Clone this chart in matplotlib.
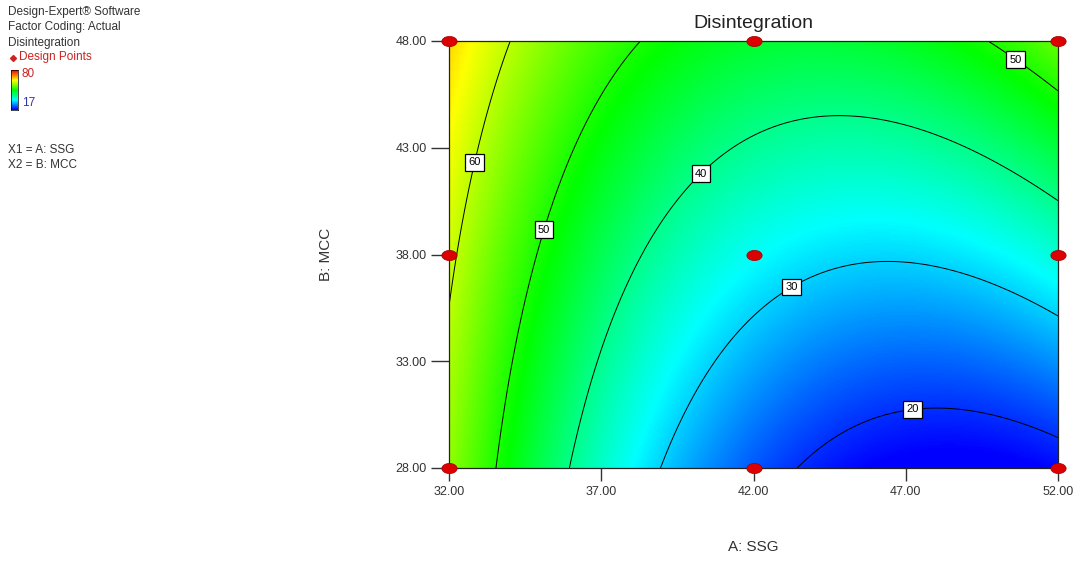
import numpy as np
import matplotlib
matplotlib.use("Agg")
import matplotlib.pyplot as plt
from matplotlib.colors import LinearSegmentedColormap
from matplotlib.path import Path
from matplotlib.transforms import Affine2D

plt.rcParams["font.family"] = ["Liberation Sans", "DejaVu Sans"]

# factor ranges and design points (3x3 factorial)
ssg_levels = [32.0, 42.0, 52.0]
mcc_levels = [28.0, 38.0, 48.0]
x_ticks = [32.0, 37.0, 42.0, 47.0, 52.0]
y_ticks = [28.0, 33.0, 38.0, 43.0, 48.0]

trace_ssg = [34.0, 32.9, 32.2, 32.0,
             38.3, 36.3, 34.9, 34.2, 33.5,
             36.0, 36.9, 38.3, 40.2, 44.9, 49.0, 52.0,
             39.0, 40.3, 43.2, 46.4, 50.1, 52.0,
             43.5, 45.2, 48.4, 52.0,
             49.8, 52.0]
trace_mcc = [48.0, 43.0, 38.0, 35.5,
             48.0, 43.0, 38.0, 33.0, 28.0,
             28.0, 33.0, 38.0, 41.9, 44.3, 43.0, 40.55,
             28.0, 33.0, 36.6, 37.5, 36.3, 35.1,
             28.0, 29.9, 30.76, 29.5,
             48.0, 45.7]
trace_level = [60] * 4 + [50] * 5 + [40] * 7 + [30] * 6 + [20] * 4 + [50] * 2

contour_levels = [20, 30, 40, 50, 60]
label_pos = [(32.9, 42.3), (34.8, 39.3), (40.2, 41.9), (43.2, 36.6),
             (47.2, 31.1), (50.75, 47.4)]
resp_min, resp_max = 17, 80


def design(a, b):
    a = (np.asarray(a) - 42.0) / 10.0
    b = (np.asarray(b) - 38.0) / 10.0
    return np.stack([np.ones_like(a), a, b, a * b, a * a, b * b], axis=-1)


# quadratic response surface fitted to the traced contour points
coef, *_ = np.linalg.lstsq(design(trace_ssg, trace_mcc),
                           np.array(trace_level, float), rcond=None)

gx = np.linspace(32, 52, 300)
gy = np.linspace(28, 48, 300)
GX, GY = np.meshgrid(gx, gy)
Z = design(GX, GY) @ coef

cmap = LinearSegmentedColormap.from_list(
    "de", ["#0000ff", "#00ffff", "#00ff00", "#ffff00", "#ff0000"])

fig = plt.figure(figsize=(10.75, 5.64), dpi=100)
ax = fig.add_axes([449 / 1075, 96 / 564, 609 / 1075, 427 / 564])
ax.imshow(Z, origin="lower", extent=[32, 52, 28, 48], aspect="auto",
          cmap=cmap, vmin=resp_min, vmax=resp_max, interpolation="bilinear")
cs = ax.contour(GX, GY, Z, levels=contour_levels, colors="black", linewidths=0.7)
ax.clabel(cs, fmt="%d", fontsize=8, inline=False, manual=label_pos)
for t in cs.labelTexts:
    t.set_rotation(0)
    t.set_zorder(4)
    t.set_bbox(dict(boxstyle="square,pad=0.3", fc="white", ec="black", lw=0.9))

# design points (elliptical red dots)
ell = Path.unit_circle().transformed(Affine2D().scale(1.5, 1.0))
PX, PY = np.meshgrid(ssg_levels, mcc_levels)
ax.plot(PX.ravel(), PY.ravel(), ls="none", marker=ell, ms=11,
        mfc="#dd0000", mec="#990000", mew=0.5, clip_on=False, zorder=5)

ax.set_xlim(32, 52)
ax.set_ylim(28, 48)
ax.set_xticks(x_ticks)
ax.set_yticks(y_ticks)
ax.set_xticklabels([f"{v:.2f}" for v in x_ticks])
ax.set_yticklabels([f"{v:.2f}" for v in y_ticks])
ax.tick_params(axis="x", direction="out", length=9, width=1, labelsize=9,
               colors="#333333", pad=4)
ax.tick_params(axis="y", direction="out", length=13, width=1, labelsize=9,
               colors="#333333", pad=3)
for s in ax.spines.values():
    s.set_linewidth(0.9)
    s.set_color("#222222")

ax.set_title("Disintegration", fontsize=14, pad=9, color="#222222")
ax.set_xlabel("A: SSG", fontsize=11, labelpad=30, color="#333333")
ax.set_ylabel("B: MCC", fontsize=11, labelpad=45, color="#333333")

# legend block on the left
info = fig.add_axes([0, 0, 1, 1], facecolor="none")
info.set_axis_off()
info.set_xlim(0, 1075)
info.set_ylim(564, 0)
tc = "#333333"
fs = 8.5
info.text(8, 12, "Design-Expert® Software", fontsize=fs, color=tc, va="center")
info.text(8, 27, "Factor Coding: Actual", fontsize=fs, color=tc, va="center")
info.text(8, 43, "Disintegration", fontsize=fs, color=tc, va="center")
info.plot([13], [58], marker="D", ms=3, color="#cc2222")
info.text(19, 57, "Design Points", fontsize=fs, color="#cc2222", va="center")
info.text(22, 74, "80", fontsize=fs, color="#cc2222", va="center")
info.text(22, 103, "17", fontsize=fs, color="#3333aa", va="center")
info.text(8, 150, "X1 = A: SSG", fontsize=fs, color=tc, va="center")
info.text(8, 165, "X2 = B: MCC", fontsize=fs, color=tc, va="center")

cb = fig.add_axes([11 / 1075, 454 / 564, 7 / 1075, 40 / 564])
cb.imshow(np.linspace(0, 1, 100)[:, None], origin="lower", aspect="auto",
          cmap=cmap)
cb.set_xticks([])
cb.set_yticks([])
for s in cb.spines.values():
    s.set_linewidth(0.5)

fig.savefig("out.png", dpi=100)
